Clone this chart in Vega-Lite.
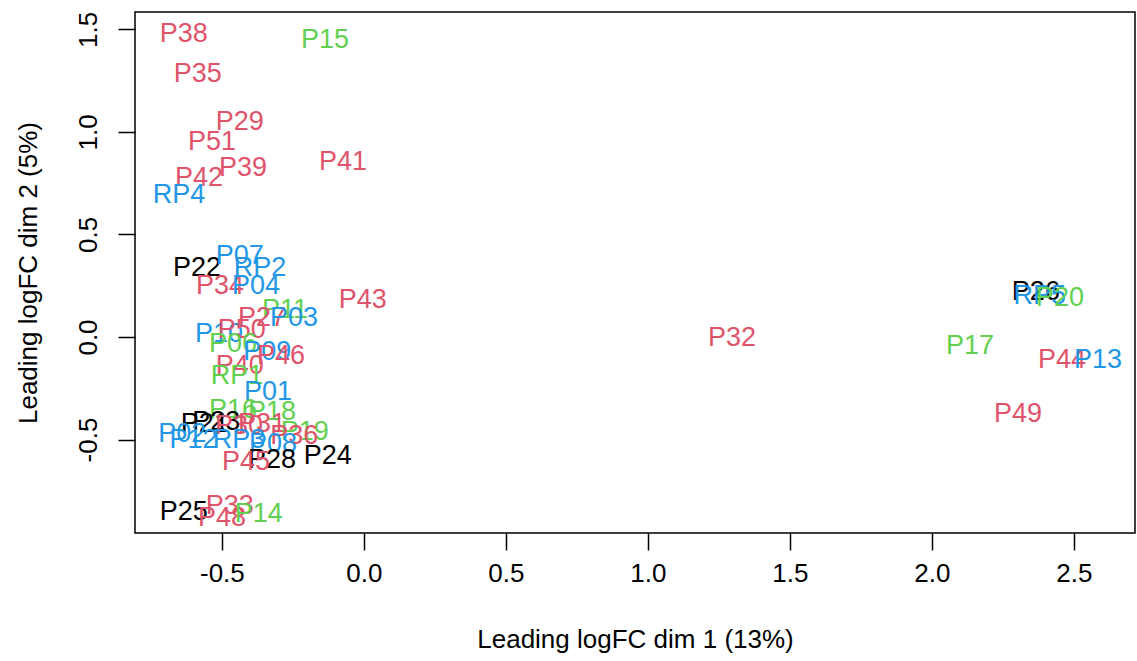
{
  "$schema": "https://vega.github.io/schema/vega-lite/v6.json",
  "width": 1000,
  "height": 521,
  "autosize": "none",
  "padding": {"left": 135, "top": 12, "right": 2, "bottom": 128},
  "background": "white",
  "config": {
    "view": {"stroke": "black", "strokeWidth": 1.5},
    "font": "Liberation Sans"
  },
  "data": {
    "values": [
      {"label": "P38", "group": "B", "dim1": -0.634, "dim2": 1.478},
      {"label": "P15", "group": "C", "dim1": -0.137, "dim2": 1.449},
      {"label": "P35", "group": "B", "dim1": -0.585, "dim2": 1.283},
      {"label": "P29", "group": "B", "dim1": -0.437, "dim2": 1.049},
      {"label": "P51", "group": "B", "dim1": -0.535, "dim2": 0.951},
      {"label": "P39", "group": "B", "dim1": -0.426, "dim2": 0.824},
      {"label": "P41", "group": "B", "dim1": -0.074, "dim2": 0.854},
      {"label": "P42", "group": "B", "dim1": -0.581, "dim2": 0.776},
      {"label": "RP4", "group": "D", "dim1": -0.651, "dim2": 0.693},
      {"label": "P22", "group": "A", "dim1": -0.588, "dim2": 0.337},
      {"label": "P07", "group": "D", "dim1": -0.437, "dim2": 0.395},
      {"label": "RP2", "group": "D", "dim1": -0.366, "dim2": 0.337},
      {"label": "P34", "group": "B", "dim1": -0.507, "dim2": 0.249},
      {"label": "P04", "group": "D", "dim1": -0.380, "dim2": 0.249},
      {"label": "P43", "group": "B", "dim1": -0.004, "dim2": 0.180},
      {"label": "P11", "group": "C", "dim1": -0.278, "dim2": 0.132},
      {"label": "P27", "group": "B", "dim1": -0.359, "dim2": 0.093},
      {"label": "P03", "group": "D", "dim1": -0.246, "dim2": 0.093},
      {"label": "P10", "group": "D", "dim1": -0.510, "dim2": 0.015},
      {"label": "P50", "group": "B", "dim1": -0.430, "dim2": 0.034},
      {"label": "P06", "group": "C", "dim1": -0.461, "dim2": -0.034},
      {"label": "P09", "group": "D", "dim1": -0.340, "dim2": -0.073},
      {"label": "P46", "group": "B", "dim1": -0.292, "dim2": -0.093},
      {"label": "P40", "group": "B", "dim1": -0.437, "dim2": -0.141},
      {"label": "RP1", "group": "C", "dim1": -0.447, "dim2": -0.190},
      {"label": "P01", "group": "D", "dim1": -0.338, "dim2": -0.268},
      {"label": "P16", "group": "C", "dim1": -0.461, "dim2": -0.356},
      {"label": "P18", "group": "C", "dim1": -0.324, "dim2": -0.366},
      {"label": "P21", "group": "A", "dim1": -0.560, "dim2": -0.424},
      {"label": "P23", "group": "A", "dim1": -0.520, "dim2": -0.415},
      {"label": "P30", "group": "B", "dim1": -0.440, "dim2": -0.434},
      {"label": "P31", "group": "B", "dim1": -0.359, "dim2": -0.424},
      {"label": "P19", "group": "C", "dim1": -0.208, "dim2": -0.463},
      {"label": "P36", "group": "B", "dim1": -0.245, "dim2": -0.483},
      {"label": "P02", "group": "D", "dim1": -0.640, "dim2": -0.473},
      {"label": "P12", "group": "D", "dim1": -0.600, "dim2": -0.502},
      {"label": "RP3", "group": "D", "dim1": -0.440, "dim2": -0.502},
      {"label": "P08", "group": "D", "dim1": -0.320, "dim2": -0.522},
      {"label": "P28", "group": "A", "dim1": -0.324, "dim2": -0.600},
      {"label": "P24", "group": "A", "dim1": -0.127, "dim2": -0.580},
      {"label": "P45", "group": "B", "dim1": -0.415, "dim2": -0.610},
      {"label": "P25", "group": "A", "dim1": -0.634, "dim2": -0.854},
      {"label": "P33", "group": "B", "dim1": -0.472, "dim2": -0.824},
      {"label": "P48", "group": "B", "dim1": -0.500, "dim2": -0.883},
      {"label": "P14", "group": "C", "dim1": -0.370, "dim2": -0.863},
      {"label": "P32", "group": "B", "dim1": 1.296, "dim2": -0.005},
      {"label": "P26", "group": "A", "dim1": 2.366, "dim2": 0.220},
      {"label": "RP5", "group": "D", "dim1": 2.380, "dim2": 0.200},
      {"label": "P20", "group": "C", "dim1": 2.451, "dim2": 0.190},
      {"label": "P17", "group": "C", "dim1": 2.134, "dim2": -0.044},
      {"label": "P44", "group": "B", "dim1": 2.458, "dim2": -0.112},
      {"label": "P13", "group": "D", "dim1": 2.585, "dim2": -0.112},
      {"label": "P49", "group": "B", "dim1": 2.303, "dim2": -0.376}
    ]
  },
  "mark": {"type": "text", "align": "center", "baseline": "middle", "fontSize": 27, "font": "Liberation Sans"},
  "encoding": {
    "x": {
      "field": "dim1", "type": "quantitative",
      "scale": {"domain": [-0.806, 2.715], "nice": false, "zero": false},
      "axis": {
        "title": "Leading logFC dim 1 (13%)",
        "values": [-0.5, 0, 0.5, 1, 1.5, 2, 2.5],
        "format": ".1f",
        "labelExpr": "replace(datum.label, '\u2212', '-')",
        "grid": false, "domain": false,
        "tickColor": "black", "tickSize": 17, "tickWidth": 1.5,
        "labelFontSize": 26, "labelColor": "black", "labelPadding": 10,
        "labelFont": "Liberation Sans",
        "titleFontSize": 26, "titleFontWeight": "normal", "titleColor": "black",
        "titleFont": "Liberation Sans", "titlePadding": 40
      }
    },
    "y": {
      "field": "dim2", "type": "quantitative",
      "scale": {"domain": [-0.956, 1.585], "nice": false, "zero": false},
      "axis": {
        "title": "Leading logFC dim 2 (5%)",
        "values": [-0.5, 0, 0.5, 1, 1.5],
        "format": ".1f",
        "labelExpr": "replace(datum.label, '\u2212', '-')",
        "grid": false, "domain": false,
        "tickColor": "black", "tickSize": 17, "tickWidth": 1.5,
        "labelFontSize": 26, "labelColor": "black", "labelPadding": 17,
        "labelAngle": -90, "labelAlign": "center", "labelBaseline": "bottom",
        "labelFont": "Liberation Sans",
        "titleFontSize": 26, "titleFontWeight": "normal", "titleColor": "black",
        "titleFont": "Liberation Sans", "titlePadding": 34
      }
    },
    "text": {"field": "label"},
    "color": {
      "field": "group", "type": "nominal",
      "scale": {"domain": ["A", "B", "C", "D"], "range": ["#000000", "#DF536B", "#61D04F", "#2297E6"]},
      "legend": null
    }
  }
}
